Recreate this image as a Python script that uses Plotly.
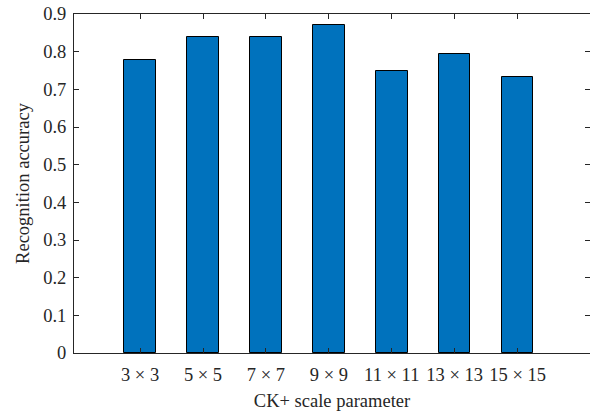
import plotly.graph_objects as go

categories = ["3 × 3", "5 × 5", "7 × 7", "9 × 9", "11 × 11", "13 × 13", "15 × 15"]
accuracy = [0.779, 0.839, 0.839, 0.872, 0.748, 0.795, 0.732]
y_ticks = [0, 0.1, 0.2, 0.3, 0.4, 0.5, 0.6, 0.7, 0.8, 0.9]
y_tick_labels = ["0", "0.1", "0.2", "0.3", "0.4", "0.5", "0.6", "0.7", "0.8", "0.9"]

FONT = "Liberation Serif"
AX = "#262626"
FS = 18.5

fig = go.Figure(go.Bar(
    x=categories, y=accuracy, width=0.5,
    marker=dict(color="#0072BD", line=dict(color="#000000", width=1)),
))

fig.update_layout(
    width=590, height=417,
    margin=dict(l=74, r=0, t=14, b=64, autoexpand=False),
    paper_bgcolor="white", plot_bgcolor="white",
    font=dict(family=FONT, size=FS, color=AX),
    showlegend=False,
    bargap=0,
)
fig.update_xaxes(
    type="category", range=[-1.05, 7.15], automargin=False, layer="above traces",
    ticks="inside", ticklen=5, tickcolor=AX, tickangle=0, ticklabelstandoff=5,
    showline=True, linecolor=AX, linewidth=1, mirror="ticks",
    showgrid=False, zeroline=False,
    title=dict(text="CK+ scale parameter", font=dict(family=FONT, size=FS, color=AX), standoff=9),
    tickfont=dict(family=FONT, size=FS, color=AX),
)
fig.update_yaxes(
    range=[0, 0.9], tickvals=y_ticks, ticktext=y_tick_labels, automargin=False,
    layer="above traces",
    ticks="inside", ticklen=5, tickcolor=AX, ticklabelstandoff=3,
    showline=True, linecolor=AX, linewidth=1, mirror="ticks",
    showgrid=False, zeroline=False,
    title=dict(text="Recognition accuracy", font=dict(family=FONT, size=FS, color=AX), standoff=8),
    tickfont=dict(family=FONT, size=FS, color=AX),
)

fig.write_html(
    "out.html",
    config={"displayModeBar": False},
    post_script="document.body.style.margin='0';document.body.style.overflow='hidden';",
)
